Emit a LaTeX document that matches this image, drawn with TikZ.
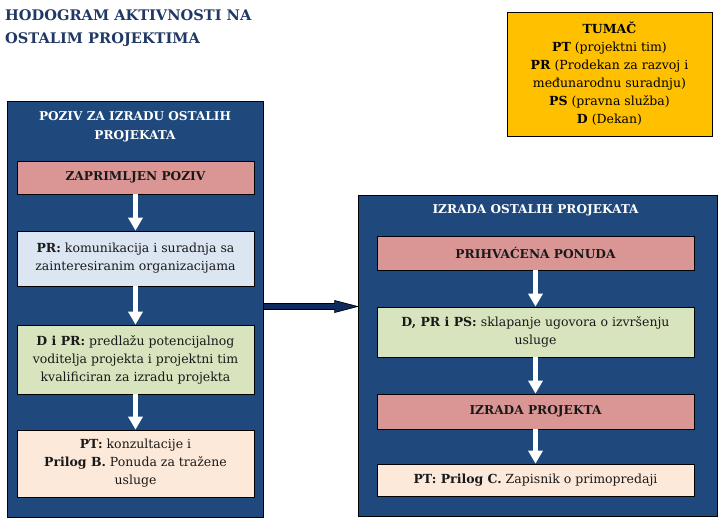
\documentclass[tikz,border=0pt]{standalone}
\usepackage{fontspec}
\setmainfont{DejaVu Serif}
\usetikzlibrary{arrows.meta,calc}

\definecolor{naslov}{HTML}{1F3864}
\definecolor{okvir}{HTML}{1F497D}
\definecolor{ruza}{HTML}{D99694}
\definecolor{plava}{HTML}{DCE6F2}
\definecolor{zelena}{HTML}{D7E4BD}
\definecolor{breskva}{HTML}{FDE9D9}
\definecolor{zuta}{HTML}{FFC000}
\definecolor{strelica}{HTML}{0E2A5E}

\tikzset{
  faza/.style={draw=black, line width=0.8pt, fill=okvir},
  korak/.style={draw=black, line width=0.7pt, align=center, inner sep=2pt,
    font=\fontsize{12.5}{18}\selectfont, text=black!90},
  istaknuto/.style={font=\bfseries\fontsize{12.2}{18}\selectfont},
  zaglavlje/.style={align=center, text=white, font=\bfseries\fontsize{12.1}{19}\selectfont},
  dolje/.style={draw=white, line width=5pt, -{Triangle[width=14pt,length=13pt]}},
}

\begin{document}
\begin{tikzpicture}[x=1pt, y=-1pt]
  \useasboundingbox (0,0) rectangle (722,527);

  % naslov
  \node (naslov) [anchor=north west, align=left, text=naslov, inner sep=0pt,
    font=\bfseries\fontsize{14.6}{23}\selectfont] at (5,9)
    {HODOGRAM AKTIVNOSTI NA\\OSTALIM PROJEKTIMA};

  % tumac
  \node (tumac) [draw=black, line width=0.8pt, fill=zuta, minimum width=205pt,
    minimum height=124pt, align=center, font=\fontsize{12.5}{18}\selectfont] at (609.5,74)
    {\textbf{TUMAČ}\\\textbf{PT} (projektni tim)\\\textbf{PR} (Prodekan za razvoj i\\
     međunarodnu suradnju)\\\textbf{PS} (pravna služba)\\\textbf{D} (Dekan)};

  % lijeva faza
  \node (poziv) [faza, minimum width=256pt, minimum height=416pt] at (135,309) {};
  \node (pozivnaslov) [zaglavlje] at (135,126.5) {POZIV ZA IZRADU OSTALIH\\PROJEKATA};
  \node (zaprimljen) [korak, istaknuto, fill=ruza, minimum width=237pt, minimum height=33pt]
    at (135.5,177.5) {ZAPRIMLJEN POZIV};
  \node (suradnja) [korak, fill=plava, minimum width=237pt, minimum height=55pt]
    at (135.5,258.5) {\textbf{PR:} komunikacija i suradnja sa\\zainteresiranim organizacijama};
  \node (prijedlog) [korak, fill=zelena, minimum width=237pt, minimum height=69pt]
    at (135.5,359.5) {\textbf{D i PR:} predlažu potencijalnog\\voditelja projekta i projektni tim\\
    kvalificiran za izradu projekta};
  \node (ponuda) [korak, fill=breskva, minimum width=237pt, minimum height=67pt]
    at (135.5,463.5) {\textbf{PT:} konzultacije i\\\textbf{Prilog B.} Ponuda za tražene\\usluge};

  % desna faza
  \node (izrada) [faza, minimum width=359pt, minimum height=321pt] at (537.5,355.5) {};
  \node (izradanaslov) [zaglavlje] at (535.5,210) {IZRADA OSTALIH PROJEKATA};
  \node (prihvacena) [korak, istaknuto, fill=ruza, minimum width=317pt, minimum height=34pt]
    at (535.5,253) {PRIHVAĆENA PONUDA};
  \node (ugovor) [korak, fill=zelena, minimum width=317pt, minimum height=50pt]
    at (535.5,332) {\textbf{D, PR i PS:} sklapanje ugovora o izvršenju\\usluge};
  \node (projekt) [korak, istaknuto, fill=ruza, minimum width=317pt, minimum height=35pt]
    at (535.5,411.5) {IZRADA PROJEKTA};
  \node (primopredaja) [korak, fill=breskva, minimum width=317pt, minimum height=32pt]
    at (535.5,480) {\textbf{PT: Prilog C.} Zapisnik o primopredaji};

  % strelice
  \draw[dolje] (zaprimljen) -- (suradnja);
  \draw[dolje] (suradnja) -- (prijedlog);
  \draw[dolje] (prijedlog) -- (ponuda);
  \draw[dolje] (prihvacena) -- (ugovor);
  \draw[dolje] (ugovor) -- (projekt);
  \draw[dolje] (projekt) -- (primopredaja);

  % veza izmedu faza
  \coordinate (od) at (poziv.east |- 0,306.5);
  \coordinate (do) at (izrada.west |- od);
  \draw[line width=0.7pt, fill=strelica]
    ($(od)+(0,-3)$) -- ($(do)+(-23,-3)$) -- ($(do)+(-23,-6)$) -- (do)
    -- ($(do)+(-23,6)$) -- ($(do)+(-23,3)$) -- ($(od)+(0,3)$) -- cycle;
\end{tikzpicture}
\end{document}
